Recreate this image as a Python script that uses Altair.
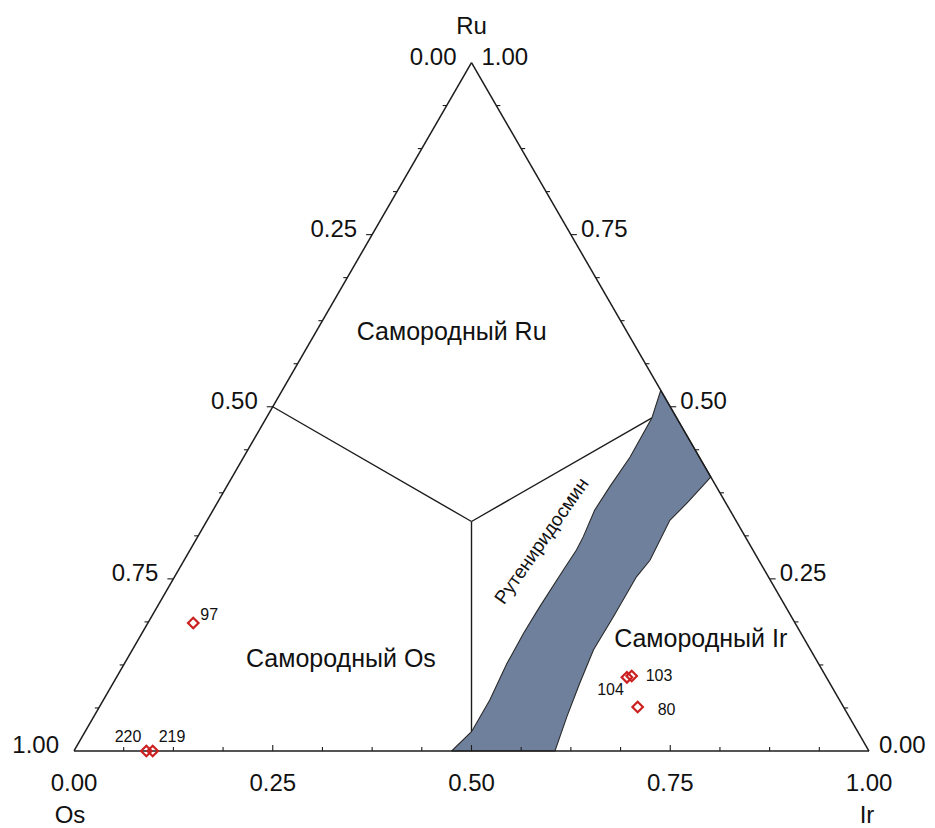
import altair as alt
import numpy as np
import pandas as pd

SQ = np.sqrt(3) / 2

# ---------------- data (ternary fractions) ----------------
sample_ids = ["97", "220", "219", "103", "104", "80"]
sample_os = [0.757, 0.909, 0.901, 0.244, 0.251, 0.259]
sample_ir = [0.057, 0.091, 0.099, 0.647, 0.642, 0.677]
sample_ru = [0.186, 0.000, 0.000, 0.109, 0.107, 0.064]

# Ruthenian-iridosmine band outline (Ru, Ir), going round the polygon
band_ru = [0.000, 0.028, 0.074, 0.127, 0.171, 0.209, 0.263, 0.292, 0.311, 0.350,
           0.384, 0.427, 0.484, 0.524, 0.398, 0.391, 0.360, 0.335, 0.277, 0.253,
           0.195, 0.147, 0.098, 0.050, 0.000, 0.000]
band_ir = [0.475, 0.486, 0.486, 0.481, 0.480, 0.481, 0.484, 0.486, 0.485, 0.480,
           0.482, 0.486, 0.485, 0.476, 0.602, 0.600, 0.591, 0.582, 0.586, 0.581,
           0.581, 0.580, 0.587, 0.595, 0.605, 0.475]

# field boundary lines (Ir, Ru) start -> end
seg_ir1 = [0.0, 1.0, 0.0, 1 / 3, 1 / 3, 1 / 3]
seg_ru1 = [0.0, 0.0, 1.0, 1 / 3, 1 / 3, 1 / 3]
seg_ir2 = [1.0, 0.0, 0.0, 0.0, 0.486, 0.485]
seg_ru2 = [0.0, 1.0, 0.0, 0.5, 0.028, 0.484]

tick_values = [0.00, 0.25, 0.50, 0.75, 1.00]
tick_labels = ["0.00", "0.25", "0.50", "0.75", "1.00"]

field_names = ["Самородный Ru", "Самородный Os", "Самородный Ir"]
field_ir = [0.171, 0.269, 0.707]
field_ru = [0.608, 0.1335, 0.1626]

band_name = "Рутениридосмин"
band_name_ir = [0.436]
band_name_ru = [0.305]

vertex_names = ["Os", "Ir", "Ru"]
vertex_ir = [0.0, 1.0, 0.0]
vertex_ru = [0.0, 0.0, 1.0]


def cx(ir, ru):
    return np.asarray(ir, float) + np.asarray(ru, float) / 2


def cy(ru):
    return np.asarray(ru, float) * SQ


W, H = 795, 689
PX = 1 / W  # one pixel in data units (both axes)
FONT = "Liberation Sans"
INK = "#1c1c1c"

xs = alt.Scale(domain=[0, 1], nice=False, zero=False)
ys = alt.Scale(domain=[0, H / W], nice=False, zero=False)
X = lambda f: alt.X(f, type="quantitative", scale=xs, axis=None)
Y = lambda f: alt.Y(f, type="quantitative", scale=ys, axis=None)

# ---------------- tables ----------------
pts = pd.DataFrame({"sid": sample_ids, "x": cx(sample_ir, sample_ru), "y": cy(sample_ru)})

band = pd.DataFrame({"i": range(len(band_ru)), "x": cx(band_ir, band_ru), "y": cy(band_ru)})

segs = pd.DataFrame({
    "x": cx(seg_ir1, seg_ru1), "y": cy(seg_ru1),
    "x2": cx(seg_ir2, seg_ru2), "y2": cy(seg_ru2),
})

rows = []
for k in range(1, 16):
    f = k / 16
    L = (6 if k % 4 == 0 else 4) * PX
    # bottom axis (Ir): inward, upward
    rows.append({"x": f, "y": 0.0, "x2": f, "y2": L})
    # left edge: outward to the left
    lx, ly = f / 2, f * SQ
    rows.append({"x": lx, "y": ly, "x2": lx - L, "y2": ly})
    # right edge: outward to the right
    rx = 1 - f / 2
    rows.append({"x": rx, "y": ly, "x2": rx + L, "y2": ly})
ticks = pd.DataFrame(rows)

tv = np.array(tick_values)
left_lab = pd.DataFrame({"x": cx(0 * tv, tv), "y": cy(tv), "t": tick_labels[::-1]})
right_lab = pd.DataFrame({"x": cx(1 - tv, tv), "y": cy(tv), "t": tick_labels})
bottom_lab = pd.DataFrame({"x": cx(tv, 0 * tv), "y": cy(0 * tv), "t": tick_labels})

fields = pd.DataFrame({"x": cx(field_ir, field_ru), "y": cy(field_ru), "t": field_names})
bname = pd.DataFrame({"x": cx(band_name_ir, band_name_ru), "y": cy(band_name_ru), "t": [band_name]})
verts = pd.DataFrame({"x": cx(vertex_ir, vertex_ru), "y": cy(vertex_ru), "t": vertex_names})

# ---------------- layers ----------------
inner_lines = alt.Chart(segs.iloc[3:]).mark_rule(color=INK, strokeWidth=1.4).encode(
    x=X("x"), y=Y("y"), x2="x2", y2="y2")

band_layer = alt.Chart(band).mark_line(
    fill="#6f809d", stroke="#2a2a2a", strokeWidth=1.1, interpolate="linear"
).encode(x=X("x"), y=Y("y"), order="i:Q")

edges = alt.Chart(segs.iloc[:3]).mark_rule(color=INK, strokeWidth=1.5).encode(
    x=X("x"), y=Y("y"), x2="x2", y2="y2")

tick_layer = alt.Chart(ticks).mark_rule(color=INK, strokeWidth=1.1).encode(
    x=X("x"), y=Y("y"), x2="x2", y2="y2")

txt = dict(font=FONT, fontSize=24, color="#111111", baseline="middle")
left_t = alt.Chart(left_lab).mark_text(align="right", dx=-15, dy=-5, **txt).encode(
    x=X("x"), y=Y("y"), text="t:N")
right_t = alt.Chart(right_lab).mark_text(align="left", dx=10, dy=-5, **txt).encode(
    x=X("x"), y=Y("y"), text="t:N")
bottom_t = alt.Chart(bottom_lab).mark_text(align="center", dy=33, **txt).encode(
    x=X("x"), y=Y("y"), text="t:N")

title_os = alt.Chart(verts.iloc[[0]]).mark_text(align="center", dx=-4, dy=65, **txt).encode(
    x=X("x"), y=Y("y"), text="t:N")
title_ir = alt.Chart(verts.iloc[[1]]).mark_text(align="center", dx=-2, dy=65, **txt).encode(
    x=X("x"), y=Y("y"), text="t:N")
title_ru = alt.Chart(verts.iloc[[2]]).mark_text(align="center", dy=-36, **txt).encode(
    x=X("x"), y=Y("y"), text="t:N")

field_t = alt.Chart(fields).mark_text(align="center", font=FONT, fontSize=25,
                                      color="#111111", baseline="middle").encode(
    x=X("x"), y=Y("y"), text="t:N")
band_t = alt.Chart(bname).mark_text(align="center", baseline="middle", angle=305,
                                    font=FONT, fontSize=19, color="#111111").encode(
    x=X("x"), y=Y("y"), text="t:N")

point_layer = alt.Chart(pts).mark_point(
    shape="diamond", filled=False, stroke="#cc1f1f", strokeWidth=2.2, size=110, opacity=1
).encode(x=X("x"), y=Y("y"))

LABEL_STYLE = {
    "97": ("left", 7, -8),
    "220": ("right", -5, -14),
    "219": ("left", 6, -14),
    "103": ("left", 14, 0),
    "104": ("right", -3, 13),
    "80": ("left", 20, 3),
}
label_layers = []
for sid, (al, dx, dy) in LABEL_STYLE.items():
    label_layers.append(
        alt.Chart(pts).transform_filter(alt.datum.sid == sid)
        .mark_text(align=al, dx=dx, dy=dy, baseline="middle", font=FONT, fontSize=16, color="#111111")
        .encode(x=X("x"), y=Y("y"), text="sid:N")
    )

chart = alt.layer(
    inner_lines, band_layer, edges, tick_layer,
    left_t, right_t, bottom_t, title_os, title_ir, title_ru,
    field_t, band_t, point_layer, *label_layers,
).properties(
    width=W, height=H,
    padding={"left": 66, "top": 54, "right": 58, "bottom": 77},
    autosize=alt.AutoSizeParams(type="none"),
    background="white",
).configure_view(stroke=None)

chart.save("out.html", embed_options={"renderer": "svg", "actions": False})
